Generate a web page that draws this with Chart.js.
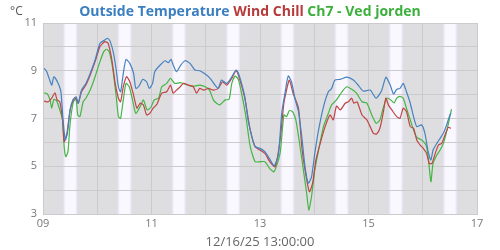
<!DOCTYPE html>
<html>
<head>
<meta charset="utf-8">
<script src="https://cdn.jsdelivr.net/npm/chart.js@4"></script>
<style>
  body { margin: 0; background: #fff; }
  #wrap { position: relative; width: 500px; height: 250px; }
  #title { position: absolute; top: 0; left: 0; width: 500px; text-align: center;
           font: bold 14px "Open Sans", sans-serif; line-height: 22px; }
  #unit { position: absolute; top: 2px; left: 10px; font: 12px "Open Sans", sans-serif; color: #555; }
  canvas { position: absolute; top: 0; left: 0; }
</style>
</head>
<body>
<div id="wrap">
  <canvas id="canvas" width="500" height="250"></canvas>
  <div id="title"><span style="color:#3b7fc0">Outside Temperature</span> <span style="color:#b83a3a">Wind Chill</span> <span style="color:#3caf3c">Ch7 - Ved jorden</span></div>
  <div id="unit">°C</div>
</div>
<script>
// x values are days of December 2025 (9.5 = 9th at 12:00)
var tempTime = [9.02, 9.07, 9.16, 9.20, 9.28, 9.33, 9.37, 9.41, 9.45, 9.50, 9.55, 9.61, 9.65, 9.71, 9.79, 9.87, 9.96,
  10.05, 10.14, 10.19, 10.24, 10.30, 10.35, 10.39, 10.43, 10.48, 10.53, 10.60, 10.67, 10.71, 10.76, 10.84, 10.91, 10.96,
  11.02, 11.06, 11.16, 11.25, 11.31, 11.36, 11.40, 11.46, 11.54, 11.62, 11.71, 11.80, 11.89, 11.99,
  12.08, 12.17, 12.23, 12.29, 12.39, 12.48, 12.56, 12.60, 12.66, 12.72, 12.78, 12.85, 12.91,
  13.00, 13.09, 13.18, 13.26, 13.34, 13.40, 13.46, 13.52, 13.58, 13.65, 13.71, 13.77, 13.83, 13.89, 13.95,
  14.01, 14.08, 14.17, 14.26, 14.32, 14.38, 14.48, 14.60, 14.72, 14.81, 14.90,
  15.03, 15.14, 15.24, 15.32, 15.40, 15.46, 15.52, 15.58, 15.64, 15.70, 15.77, 15.83, 15.89, 15.98,
  16.04, 16.10, 16.15, 16.19, 16.26, 16.32, 16.38, 16.44, 16.50, 16.52];
var tempValues = [9.10, 8.96, 8.40, 8.75, 8.47, 8.12, 6.94, 6.10, 6.38, 7.36, 7.78, 7.91, 7.64, 8.19, 8.47, 8.89, 9.45,
  10.15, 10.29, 10.36, 10.22, 9.73, 9.03, 8.33, 8.12, 8.89, 9.47, 9.31, 8.89, 8.26, 8.33, 8.64, 8.54, 8.26,
  8.47, 8.96, 9.24, 9.42, 9.34, 9.48, 9.24, 8.96, 9.24, 9.42, 9.31, 9.03, 9.00, 8.86,
  8.68, 8.40, 8.26, 8.61, 8.47, 8.75, 9.03, 8.92, 8.47, 7.91, 6.94, 6.24, 5.82,
  5.75, 5.61, 5.30, 5.02, 5.50, 7.22, 8.06, 8.78, 8.54, 7.78, 7.29, 6.24, 4.98, 4.29, 4.56,
  5.54, 6.52, 7.49, 8.12, 8.26, 8.61, 8.64, 8.73, 8.61, 8.40, 8.15,
  8.19, 7.85, 8.16, 8.73, 8.40, 8.03, 8.22, 8.26, 8.47, 8.12, 7.64, 7.08, 6.66, 6.73,
  6.38, 5.61, 5.26, 5.68, 5.96, 6.17, 6.38, 6.73, 7.15, 7.22];

var chillTime = [9.02, 9.10, 9.16, 9.22, 9.26, 9.31, 9.36, 9.39, 9.44, 9.50, 9.56, 9.61, 9.65, 9.71, 9.79, 9.87, 9.96,
  10.05, 10.14, 10.20, 10.27, 10.33, 10.39, 10.43, 10.48, 10.54, 10.60, 10.67, 10.73, 10.79, 10.85, 10.91, 10.97,
  11.03, 11.10, 11.19, 11.28, 11.35, 11.40, 11.46, 11.53, 11.59, 11.68, 11.77, 11.83, 11.89, 11.96,
  12.05, 12.14, 12.23, 12.31, 12.39, 12.48, 12.56, 12.63, 12.72, 12.82, 12.91,
  13.09, 13.18, 13.28, 13.37, 13.44, 13.49, 13.54, 13.61, 13.71, 13.77, 13.83, 13.91, 13.97,
  14.03, 14.11, 14.20, 14.29, 14.35, 14.41, 14.48, 14.57, 14.63, 14.69, 14.73, 14.79, 14.88, 14.97,
  15.03, 15.09, 15.15, 15.21, 15.27, 15.32, 15.37, 15.43, 15.52, 15.58, 15.64, 15.70, 15.77, 15.83, 15.89, 15.95,
  16.01, 16.07, 16.12, 16.17, 16.23, 16.29, 16.35, 16.41, 16.47, 16.52];
var chillValues = [7.73, 7.70, 7.85, 8.08, 7.78, 7.70, 6.94, 6.03, 6.38, 7.36, 7.78, 7.85, 7.64, 8.12, 8.40, 8.82, 9.38,
  10.01, 10.22, 10.15, 9.45, 8.47, 7.85, 7.70, 8.33, 8.75, 8.54, 7.98, 7.43, 7.64, 7.57, 7.15, 7.22,
  7.43, 7.60, 8.06, 8.12, 8.40, 8.06, 8.19, 8.33, 8.47, 8.40, 8.33, 8.06, 8.26, 8.19,
  8.26, 8.19, 8.26, 8.54, 8.40, 8.68, 9.00, 8.61, 7.85, 6.52, 5.82,
  5.54, 5.19, 4.98, 6.10, 7.64, 8.19, 8.61, 8.06, 7.43, 5.82, 4.84, 3.93, 4.29,
  5.26, 5.96, 6.66, 7.15, 6.94, 7.52, 7.36, 7.64, 7.70, 7.85, 7.64, 7.70, 7.15, 6.94,
  6.66, 6.38, 6.35, 6.59, 7.22, 7.85, 7.55, 7.36, 7.08, 7.01, 7.43, 7.29, 6.66, 6.59, 6.10, 5.89,
  5.75, 5.54, 5.12, 5.12, 5.54, 5.89, 5.96, 6.31, 6.63, 6.59];

var groundTime = [9.02, 9.08, 9.13, 9.16, 9.20, 9.25, 9.31, 9.36, 9.39, 9.42, 9.46, 9.50, 9.56, 9.61, 9.64, 9.68, 9.74, 9.79, 9.87, 9.96,
  10.05, 10.12, 10.17, 10.22, 10.29, 10.35, 10.39, 10.43, 10.48, 10.53, 10.59, 10.65, 10.71, 10.79, 10.85, 10.92, 10.99,
  11.05, 11.13, 11.19, 11.28, 11.35, 11.43, 11.53, 11.62, 11.71, 11.80, 11.89, 11.99,
  12.07, 12.14, 12.20, 12.26, 12.36, 12.43, 12.48, 12.54, 12.60, 12.66, 12.74, 12.82, 12.91,
  13.00, 13.09, 13.18, 13.26, 13.37, 13.44, 13.49, 13.54, 13.60, 13.66, 13.72, 13.80, 13.86, 13.90, 13.95,
  14.01, 14.08, 14.17, 14.26, 14.32, 14.41, 14.51, 14.60, 14.69, 14.78, 14.88, 14.97,
  15.06, 15.14, 15.21, 15.27, 15.34, 15.41, 15.47, 15.52, 15.58, 15.64, 15.70, 15.77, 15.83, 15.89, 15.98,
  16.06, 16.10, 16.15, 16.19, 16.26, 16.32, 16.38, 16.44, 16.50, 16.53];
var groundValues = [8.08, 8.03, 7.78, 7.43, 7.80, 7.75, 7.36, 6.94, 5.82, 5.40, 5.61, 6.80, 7.70, 7.80, 7.15, 7.08, 7.70, 7.85, 8.19, 8.75,
  9.38, 9.80, 9.90, 9.80, 9.03, 7.91, 7.08, 7.01, 7.78, 8.47, 8.33, 7.78, 7.22, 7.49, 7.78, 7.36, 7.47,
  7.78, 7.85, 8.33, 8.47, 8.68, 8.47, 8.50, 8.44, 8.36, 8.36, 8.40, 8.33,
  8.19, 7.78, 7.64, 7.57, 7.78, 7.80, 8.47, 8.78, 8.64, 8.06, 7.08, 5.82, 5.19,
  5.19, 5.19, 4.90, 4.77, 5.54, 7.15, 7.08, 7.33, 7.29, 6.94, 6.10, 4.84, 3.87, 3.17, 3.73,
  4.84, 5.68, 6.66, 7.22, 7.57, 7.78, 8.12, 8.33, 8.22, 8.06, 7.70, 7.64,
  7.15, 6.80, 6.94, 7.43, 7.85, 7.78, 7.65, 7.85, 7.93, 7.85, 7.43, 6.94, 6.52, 6.21, 6.10,
  5.89, 5.40, 4.35, 5.12, 5.47, 5.68, 5.96, 6.45, 7.08, 7.39];

// daylight shading: one band per day, sunrise/sunset as fractions of a day
var shadedDays = [9, 10, 11, 12, 13, 14, 15, 16];
var sunrise = 0.37;
var sunset = 0.64;

var xTicks = ['09', '11', '13', '15', '17'];
var yTicks = [3, 5, 7, 9, 11];
var xTitle = '12/16/25 13:00:00';

function pairs(t, v) {
  return t.map(function (x, i) { return { x: x, y: v[i] }; });
}

// grey night background with light day bands, drawn under the grid
var bandPlugin = {
  id: 'bands',
  beforeDraw: function (chart) {
    var ctx = chart.ctx, a = chart.chartArea, xs = chart.scales.x;
    ctx.save();
    ctx.fillStyle = '#dedee0';
    ctx.fillRect(a.left, a.top, a.right - a.left, a.bottom - a.top);
    shadedDays.forEach(function (d) {
      var x0 = xs.getPixelForValue(d + sunrise), x1 = xs.getPixelForValue(d + sunset);
      var g = ctx.createLinearGradient(x0, 0, x1, 0);
      g.addColorStop(0, '#e2dcef');
      g.addColorStop(0.18, '#faf8ff');
      g.addColorStop(0.82, '#faf8ff');
      g.addColorStop(1, '#e2dcef');
      ctx.fillStyle = g;
      ctx.fillRect(x0, a.top, x1 - x0, a.bottom - a.top);
    });
    ctx.restore();
  }
};

var lineStyle = { borderWidth: 1.2, pointRadius: 0, tension: 0.2, fill: false };

var ctx = document.getElementById('canvas').getContext('2d');
new Chart(ctx, {
  type: 'line',
  data: {
    datasets: [
      Object.assign({ label: 'Outside Temperature', data: pairs(tempTime, tempValues), borderColor: '#4582c0' }, lineStyle),
      Object.assign({ label: 'Wind Chill', data: pairs(chillTime, chillValues), borderColor: '#c04545' }, lineStyle),
      Object.assign({ label: 'Ch7 - Ved jorden', data: pairs(groundTime, groundValues), borderColor: '#45b545' }, lineStyle)
    ]
  },
  options: {
    animation: false,
    responsive: false,
    layout: { padding: { top: 23, right: 23, left: 0, bottom: 0 } },
    plugins: { legend: { display: false }, tooltip: { enabled: false } },
    scales: {
      x: {
        type: 'linear', min: 9, max: 17,
        ticks: {
          stepSize: 1, autoSkip: false, maxRotation: 0, color: '#777', padding: 3,
          font: { family: 'Open Sans', size: 11 },
          callback: function (v) { return xTicks[(v - 9) / 2] || ''; }
        },
        grid: { color: '#cbcbcd', lineWidth: 1, drawTicks: false },
        border: { color: '#cbcbcd' },
        title: { display: true, text: xTitle, color: '#666', font: { family: 'Open Sans', size: 13 }, padding: { top: 2, bottom: 0 } },
        afterFit: function (s) { s.height = 36; }
      },
      y: {
        min: 3, max: 11,
        ticks: {
          stepSize: 1, color: '#777', padding: 6,
          font: { family: 'Open Sans', size: 11 },
          callback: function (v) { return yTicks.indexOf(v) >= 0 ? String(v) : ''; }
        },
        grid: { color: '#cbcbcd', lineWidth: 1, drawTicks: false },
        border: { color: '#cbcbcd' },
        afterFit: function (s) { s.width = 43; }
      }
    }
  },
  plugins: [bandPlugin]
});
</script>
</body>
</html>
